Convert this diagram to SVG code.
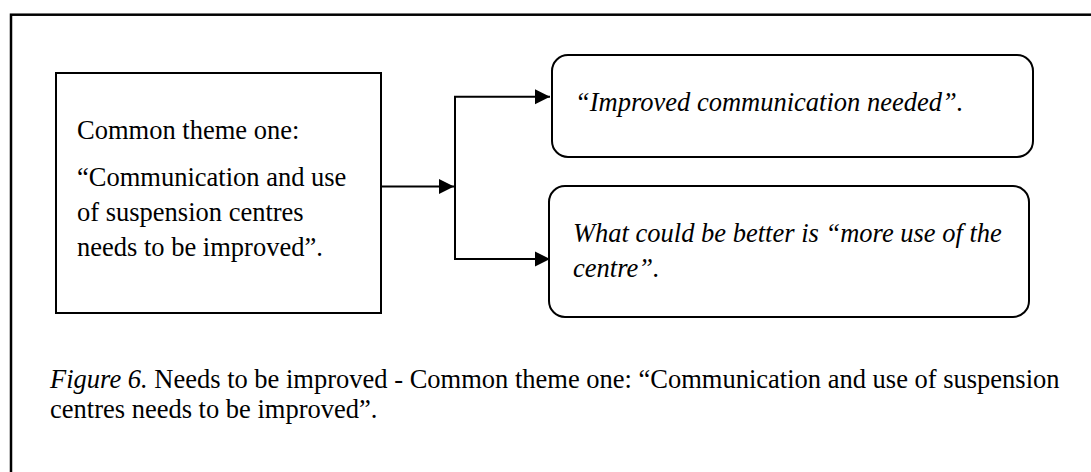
<svg xmlns="http://www.w3.org/2000/svg" width="1091" height="472" viewBox="0 0 1091 472">
<style>
  .t { font-family: "Liberation Serif", "Times New Roman", serif; font-size: 26.5px; fill: #000; }
  .i { font-style: italic; }
  .box { fill: #fff; stroke: #000; stroke-width: 2; }
  .conn { fill: none; stroke: #000; stroke-width: 2; }
</style>
<defs>
  <marker id="arr" markerWidth="16" markerHeight="16" refX="15" refY="8" orient="auto" markerUnits="userSpaceOnUse">
    <path d="M0,0.5 L15,8 L0,15.5 Z" fill="#000"/>
  </marker>
</defs>
<rect width="1091" height="472" fill="#fff"/>
<rect id="frame" x="11" y="14.7" width="1100" height="480" fill="none" stroke="#000" stroke-width="2.5"/>

<g id="node-theme">
  <rect class="box" x="56" y="73" width="325" height="240"/>
  <text class="t" x="77" y="139">Common theme one:</text>
  <text class="t" x="77" y="186">“Communication and use</text>
  <text class="t" x="77" y="221">of suspension centres</text>
  <text class="t" x="77" y="256">needs to be improved”.</text>
</g>

<g id="node-improved">
  <rect class="box" x="552" y="55" width="481" height="102" rx="16" ry="16"/>
  <text class="t i" x="575" y="111">“Improved communication needed”.</text>
</g>

<g id="node-better">
  <rect class="box" x="549" y="186" width="480" height="131" rx="16" ry="16"/>
  <text class="t i" x="573" y="242">What could be better is “more use of the</text>
  <text class="t i" x="573" y="277">centre”.</text>
</g>

<g id="connectors">
  <path class="conn" d="M381,186.5 L454,186.5" marker-end="url(#arr)"/>
  <path class="conn" d="M455,96.7 L455,259"/>
  <path class="conn" d="M454,96.7 L550,96.7" marker-end="url(#arr)"/>
  <path class="conn" d="M454,259 L550,259" marker-end="url(#arr)"/>
</g>

<g id="caption">
  <text class="t" x="50" y="388"><tspan class="i">Figure 6.</tspan> Needs to be improved - Common theme one: “Communication and use of suspension</text>
  <text class="t" x="50" y="418">centres needs to be improved”.</text>
</g>
</svg>
